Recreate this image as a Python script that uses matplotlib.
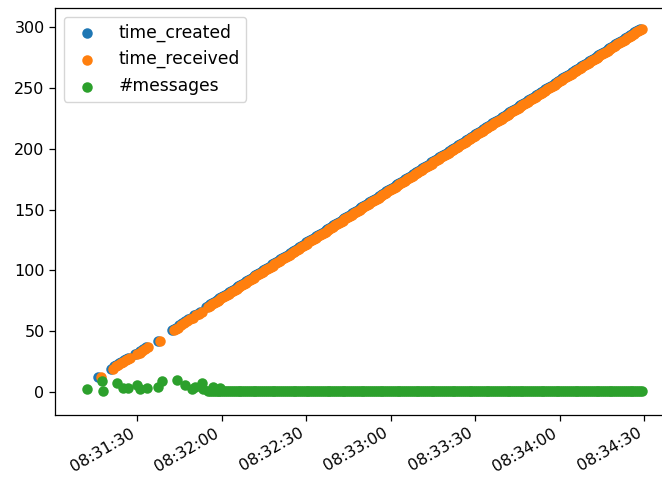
import matplotlib
matplotlib.use("Agg")
import matplotlib.pyplot as plt
import matplotlib.dates as mdates
import pandas as pd

START = pd.Timestamp("2021-01-01 08:31:00")

# message number (y) of each received message
msg_ids = [12, 19, 21, 22, 24, 25, 26, 27, 28, 31, 32, 34, 35, 37, 42,
           51, 52, 53, 55, 57, 58, 60, 61, 63, 64, 66,
           70, 71, 72, 73, 74, 75, 76, 77, 78, 79,
           80, 81, 82, 83, 84, 85, 86, 87, 88, 89,
           90, 91, 92, 93, 94, 95, 96, 97, 98, 99,
           100, 101, 102, 103, 104, 105, 106, 107, 108, 109,
           110, 111, 112, 113, 114, 115, 116, 117, 118, 119,
           120, 121, 122, 123, 124, 125, 126, 127, 128, 129,
           130, 131, 132, 133, 134, 135, 136, 137, 138, 139,
           140, 141, 142, 143, 144, 145, 146, 147, 148, 149,
           150, 151, 152, 153, 154, 155, 156, 157, 158, 159,
           160, 161, 162, 163, 164, 165, 166, 167, 168, 169,
           170, 171, 172, 173, 174, 175, 176, 177, 178, 179,
           180, 181, 182, 183, 184, 185, 186, 187, 188, 189,
           190, 191, 192, 193, 194, 195, 196, 197, 198, 199,
           200, 201, 202, 203, 204, 205, 206, 207, 208, 209,
           210, 211, 212, 213, 214, 215, 216, 217, 218, 219,
           220, 221, 222, 223, 224, 225, 226, 227, 228, 229,
           230, 231, 232, 233, 234, 235, 236, 237, 238, 239,
           240, 241, 242, 243, 244, 245, 246, 247, 248, 249,
           250, 251, 252, 253, 254, 255, 256, 257, 258, 259,
           260, 261, 262, 263, 264, 265, 266, 267, 268, 269,
           270, 271, 272, 273, 274, 275, 276, 277, 278, 279,
           280, 281, 282, 283, 284, 285, 286, 287, 288, 289,
           290, 291, 292, 293, 294, 295, 296, 297, 298, 299]

# seconds after 08:31:00
received_sec = [17.2, 21.5, 22.4, 23.3, 24.2, 25.0, 25.9, 26.7, 27.5, 30.0, 30.9, 31.8, 32.8, 33.9, 38.2,
                43.1, 43.8, 44.6, 45.6, 46.7, 47.7, 48.8, 49.8, 50.9, 52.0, 53.1,
                55.2, 55.9, 56.5, 57.2, 57.9, 58.6, 59.2, 59.9, 60.6, 61.3,
                61.9, 62.6, 63.3, 63.9, 64.6, 65.3, 66.0, 66.6, 67.3, 68.0,
                68.7, 69.3, 70.0, 70.7, 71.3, 72.0, 72.7, 73.4, 74.0, 74.7,
                75.4, 76.0, 76.7, 77.4, 78.1, 78.7, 79.4, 80.1, 80.8, 81.4,
                82.1, 82.8, 83.4, 84.1, 84.8, 85.5, 86.1, 86.8, 87.5, 88.2,
                88.8, 89.5, 90.2, 90.8, 91.5, 92.2, 92.9, 93.5, 94.2, 94.9,
                95.6, 96.2, 96.9, 97.6, 98.2, 98.9, 99.6, 100.3, 100.9, 101.6,
                102.3, 102.9, 103.6, 104.3, 105.0, 105.6, 106.3, 107.0, 107.7, 108.3,
                109.0, 109.7, 110.3, 111.0, 111.7, 112.4, 113.0, 113.7, 114.4, 115.1,
                115.7, 116.4, 117.1, 117.7, 118.4, 119.1, 119.8, 120.4, 121.1, 121.8,
                122.5, 123.1, 123.8, 124.5, 125.1, 125.8, 126.5, 127.2, 127.8, 128.5,
                129.2, 129.8, 130.5, 131.2, 131.9, 132.5, 133.2, 133.9, 134.6, 135.2,
                135.9, 136.6, 137.2, 137.9, 138.6, 139.3, 139.9, 140.6, 141.3, 142.0,
                142.6, 143.3, 144.0, 144.6, 145.3, 146.0, 146.7, 147.3, 148.0, 148.7,
                149.4, 150.0, 150.7, 151.4, 152.0, 152.7, 153.4, 154.1, 154.7, 155.4,
                156.1, 156.7, 157.4, 158.1, 158.8, 159.4, 160.1, 160.8, 161.5, 162.1,
                162.8, 163.5, 164.1, 164.8, 165.5, 166.2, 166.8, 167.5, 168.2, 168.9,
                169.5, 170.2, 170.9, 171.5, 172.2, 172.9, 173.6, 174.2, 174.9, 175.6,
                176.3, 176.9, 177.6, 178.3, 178.9, 179.6, 180.3, 181.0, 181.6, 182.3,
                183.0, 183.6, 184.3, 185.0, 185.7, 186.3, 187.0, 187.7, 188.4, 189.0,
                189.7, 190.4, 191.0, 191.7, 192.4, 193.1, 193.7, 194.4, 195.1, 195.8,
                196.4, 197.1, 197.8, 198.4, 199.1, 199.8, 200.5, 201.1, 201.8, 202.5,
                203.2, 203.8, 204.5, 205.2, 205.8, 206.5, 207.2, 207.9, 208.5, 209.2]

created_sec = [15.9, 20.8, 21.7, 22.6, 23.5, 24.3, 25.2, 26.0, 26.8, 29.3, 30.2, 31.1, 32.1, 33.2, 37.5,
               42.4, 43.1, 43.9, 44.9, 46.0, 47.0, 48.1, 49.1, 50.2, 51.3, 52.4,
               54.5, 55.2, 55.8, 56.5, 57.2, 57.9, 58.5, 59.2, 59.9, 60.6,
               61.2, 61.9, 62.6, 63.2, 63.9, 64.6, 65.3, 65.9, 66.6, 67.3,
               68.0, 68.6, 69.3, 70.0, 70.6, 71.3, 72.0, 72.7, 73.3, 74.0,
               74.7, 75.3, 76.0, 76.7, 77.4, 78.0, 78.7, 79.4, 80.1, 80.7,
               81.4, 82.1, 82.7, 83.4, 84.1, 84.8, 85.4, 86.1, 86.8, 87.5,
               88.1, 88.8, 89.5, 90.1, 90.8, 91.5, 92.2, 92.8, 93.5, 94.2,
               94.9, 95.5, 96.2, 96.9, 97.5, 98.2, 98.9, 99.6, 100.2, 100.9,
               101.6, 102.2, 102.9, 103.6, 104.3, 104.9, 105.6, 106.3, 107.0, 107.6,
               108.3, 109.0, 109.6, 110.3, 111.0, 111.7, 112.3, 113.0, 113.7, 114.4,
               115.0, 115.7, 116.4, 117.0, 117.7, 118.4, 119.1, 119.7, 120.4, 121.1,
               121.8, 122.4, 123.1, 123.8, 124.4, 125.1, 125.8, 126.5, 127.1, 127.8,
               128.5, 129.1, 129.8, 130.5, 131.2, 131.8, 132.5, 133.2, 133.9, 134.5,
               135.2, 135.9, 136.5, 137.2, 137.9, 138.6, 139.2, 139.9, 140.6, 141.3,
               141.9, 142.6, 143.3, 143.9, 144.6, 145.3, 146.0, 146.6, 147.3, 148.0,
               148.7, 149.3, 150.0, 150.7, 151.3, 152.0, 152.7, 153.4, 154.0, 154.7,
               155.4, 156.0, 156.7, 157.4, 158.1, 158.7, 159.4, 160.1, 160.8, 161.4,
               162.1, 162.8, 163.4, 164.1, 164.8, 165.5, 166.1, 166.8, 167.5, 168.2,
               168.8, 169.5, 170.2, 170.8, 171.5, 172.2, 172.9, 173.5, 174.2, 174.9,
               175.6, 176.2, 176.9, 177.6, 178.2, 178.9, 179.6, 180.3, 180.9, 181.6,
               182.3, 182.9, 183.6, 184.3, 185.0, 185.6, 186.3, 187.0, 187.7, 188.3,
               189.0, 189.7, 190.3, 191.0, 191.7, 192.4, 193.0, 193.7, 194.4, 195.1,
               195.7, 196.4, 197.1, 197.7, 198.4, 199.1, 199.8, 200.4, 201.1, 201.8,
               202.5, 203.1, 203.8, 204.5, 205.1, 205.8, 206.5, 207.2, 207.8, 208.5]

# batch sizes during the bursty start
burst_sec = [12.2, 17.5, 17.8, 22.8, 25.0, 26.8, 29.9, 31.0, 33.4, 37.5,
             38.8, 44.1, 47.0, 49.4, 50.6, 53.0, 53.4, 57.0, 59.5]
burst_counts = [2, 9, 1, 7, 3, 3, 6, 2, 3, 4,
                9, 10, 6, 2, 4, 7, 2, 4, 3]

# from msg 70 on every message arrives on its own (first 26 entries are the burst phase)
steady_sec = received_sec[26:]
steady_counts = [1] * len(steady_sec)


def to_time(secs):
    return START + pd.to_timedelta(secs, unit="s")


fig = plt.figure(figsize=(6.62, 4.84), dpi=100)
ax = fig.add_axes([55 / 662, 69 / 484, 615 / 662, 407 / 484])

ms = 57
ax.scatter(to_time(created_sec), msg_ids, s=ms, color="tab:blue", linewidths=0, label="time_created")
ax.scatter(to_time(received_sec), msg_ids, s=ms, color="tab:orange", linewidths=0, label="time_received")
ax.scatter(to_time(burst_sec + steady_sec), burst_counts + steady_counts, s=ms,
           color="tab:green", linewidths=0, label="#messages")

ax.set_xlim(to_time([0.8])[0], to_time([219.2])[0])
ax.set_ylim(-19, 316)
ax.xaxis.set_major_locator(mdates.SecondLocator(bysecond=[0, 30]))
ax.xaxis.set_major_formatter(mdates.DateFormatter("%H:%M:%S"))
ax.tick_params(labelsize=11.5, length=4, width=0.9)
for lbl in ax.get_xticklabels():
    lbl.set_rotation(30)
    lbl.set_ha("right")
for sp in ax.spines.values():
    sp.set_linewidth(0.9)

ax.legend(loc="upper left", fontsize=12.3)

fig.savefig("out.png", dpi=100)
